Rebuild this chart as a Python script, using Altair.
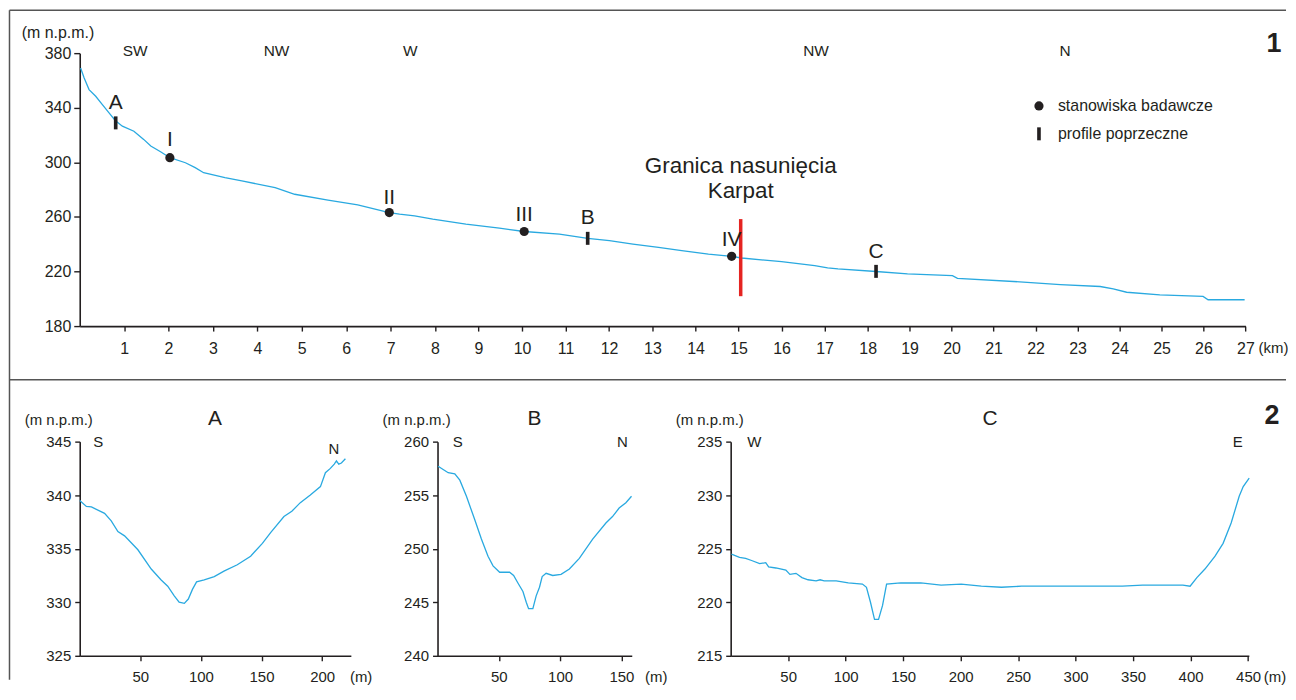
import altair as alt
import pandas as pd

BLUE = "#29a9e0"
RED = "#e52421"
INK = "#231f20"
FRAME = "#555555"
FONT = "Liberation Sans"

# ---------------- longitudinal profile (panel 1) ----------------
prof_km = [0.02, 0.10, 0.21, 0.36, 0.51, 0.66, 0.80, 0.96, 1.22, 1.44, 1.60, 1.82, 2.03,
           2.38, 2.60, 2.79, 3.27, 3.65, 4.40, 4.84, 5.59, 6.26, 6.97, 7.20, 7.54, 7.95,
           8.71, 9.48, 10.05, 10.86, 11.51, 12.01, 12.55, 13.14, 13.68, 14.30, 14.84,
           15.07, 16.00, 16.77, 17.07, 17.31, 18.20, 18.95, 20.02, 20.14, 21.80, 22.59,
           23.54, 23.85, 24.17, 24.96, 25.99, 26.11, 26.98]
prof_elev = [369.1, 361.8, 353.3, 348.4, 342.3, 336.2, 330.7, 326.5, 322.8, 316.8, 311.9, 307.7, 303.4,
             299.7, 296.1, 292.4, 288.8, 286.4, 281.5, 276.6, 272.3, 268.8, 263.2, 262.0, 260.8, 258.4,
             254.7, 251.8, 249.3, 247.4, 244.2, 242.6, 240.1, 237.7, 235.3, 232.8, 231.1,
             229.9, 227.2, 224.3, 222.6, 221.9, 220.0, 218.3, 217.0, 215.0, 212.1, 210.4,
             209.0, 207.3, 204.8, 202.9, 201.7, 199.3, 199.3]

site_names = ["I", "II", "III", "IV"]
site_km = [2.03, 6.97, 10.05, 14.84]
site_elev = [303.4, 263.2, 249.3, 231.1]
site_label_elev = [316.3, 273.6, 261.5, 242.9]

xs_names = ["A", "B", "C"]
xs_km = [0.81, 11.51, 18.20]
xs_elev = [328.9, 244.3, 220.1]
xs_label_elev = [343.3, 259.0, 234.0]

kind_names = ["stanowiska badawcze", "profile poprzeczne"]

thrust_km = [15.05]
thrust_low = [201.9]
thrust_high = [258.4]
thrust_text = ["Granica nasunięcia", "Karpat"]
thrust_text_elev = [297.3, 279.1]

dir_names = ["SW", "NW", "W", "NW", "N"]
dir_km = [1.25, 4.43, 7.44, 16.80, 22.70]
dir_elev = [381.8] * 5

km_ticks = list(range(1, 28))
top_y_ticks = [180, 220, 260, 300, 340, 380]

# ---------------- cross sections (panel 2) ----------------
a_dist = [0, 5.5, 9.6, 20.5, 26, 31.5, 37, 48, 59, 67, 72.6, 78, 82, 86.3, 89.6, 93, 96.4,
          102.7, 111, 119, 130, 141, 150.7, 157.5, 168.5, 175, 182, 190, 198.6, 202.7,
          206.8, 210, 211.8, 213.7, 215.9, 219.2]
a_elev = [339.5, 338.95, 338.9, 338.3, 337.6, 336.6, 336.2, 334.9, 333.1, 332.1, 331.5, 330.6,
          330.0, 329.9, 330.3, 331.2, 331.9, 332.1, 332.4, 332.9, 333.5, 334.3, 335.5, 336.5,
          338.0, 338.5, 339.3, 340.0, 340.8, 342.1, 342.5, 342.9, 343.2, 342.9, 343.0, 343.4]

b_dist = [0.5, 4.6, 8.7, 14.1, 18.2, 23.6, 30.4, 35.8, 41.2, 45.3, 50.7, 58.8, 62.1, 65.6,
          69.7, 72.4, 74.3, 77.8, 80.5, 83.2, 85.4, 88.6, 94, 100.8, 107.6, 115.7, 126.6,
          137.4, 142.8, 148.2, 153.7, 158.3]
b_elev = [257.7, 257.4, 257.1, 257.0, 256.4, 254.9, 252.7, 250.9, 249.3, 248.4, 247.8, 247.8,
          247.5, 246.8, 246.0, 245.0, 244.4, 244.4, 245.6, 246.4, 247.4, 247.7, 247.5, 247.6,
          248.1, 249.1, 250.9, 252.4, 253.0, 253.8, 254.3, 254.9]

c_dist = [0.7, 7.7, 13, 18.2, 25.2, 30.5, 33, 39.3, 48, 51.5, 56.8, 62, 67.3, 74.3, 77.8, 81.3,
          91.8, 102.3, 114.6, 118.1, 121.6, 125.1, 128.6, 132.1, 135.6, 147.9, 165.4, 183,
          200.5, 218, 235.5, 253, 270.6, 288.1, 305.6, 323.2, 340.7, 358.2, 375.7, 393.3,
          399.6, 405.5, 412.5, 421.3, 428.3, 435.3, 442.3, 445.8, 451.0]
c_elev = [224.5, 224.2, 224.1, 223.9, 223.6, 223.7, 223.3, 223.2, 223.0, 222.6, 222.7, 222.3,
          222.1, 222.0, 222.1, 222.0, 222.0, 221.8, 221.7, 221.4, 220.0, 218.4, 218.4, 219.7,
          221.7, 221.8, 221.8, 221.6, 221.7, 221.5, 221.4, 221.5, 221.5, 221.5, 221.5, 221.5,
          221.5, 221.6, 221.6, 221.6, 221.5, 222.3, 223.1, 224.3, 225.5, 227.4, 229.9, 230.8, 231.6]

# ---------------- top chart ----------------
top_xscale = alt.Scale(domain=[0, 8, 13, 18, 27], range=[0, 356.7, 575, 791, 1170.3])
top_yscale = alt.Scale(domain=[180, 380], nice=False, zero=False)
top_xaxis = alt.Axis(values=km_ticks, title="(km)", titleX=1198, titleY=22, titleAngle=0,
                     titleAlign="center", titleBaseline="middle", titleFontSize=15,
                     labelFontSize=16, labelPadding=10, tickSize=5, labelFlush=False,
                     labelOverlap=False, grid=False, format="d")
top_yaxis = alt.Axis(values=top_y_ticks, title="(m n.p.m.)", titleX=-22.3, titleY=-21,
                     titleAngle=0, titleAlign="center", titleBaseline="middle", titleFontSize=16,
                     labelFontSize=16, labelPadding=3, tickSize=6, labelFlush=False, grid=False)


def TX(f):
    return alt.X(f"{f}:Q", scale=top_xscale, axis=top_xaxis)


def TY(f):
    return alt.Y(f"{f}:Q", scale=top_yscale, axis=top_yaxis)


dummy = pd.DataFrame({"v": [0]})

frame_left = alt.Chart(dummy).mark_rule(color=FRAME, strokeWidth=1.5).encode(
    x=alt.value(-70.5), y=alt.value(-43), y2=alt.value(629))
frame_top = alt.Chart(dummy).mark_rule(color=FRAME, strokeWidth=1.5).encode(
    x=alt.value(-70.5), x2=alt.value(1211), y=alt.value(-43))
frame_mid = alt.Chart(dummy).mark_rule(color=FRAME, strokeWidth=1.5).encode(
    x=alt.value(-70.5), x2=alt.value(1211), y=alt.value(327.8))

prof_df = pd.DataFrame({"km": prof_km, "elev": prof_elev})
prof_line = alt.Chart(prof_df).mark_line(color=BLUE, strokeWidth=1.3).encode(
    x=TX("km"), y=TY("elev"))

thrust_df = pd.DataFrame({"km": thrust_km, "elev": thrust_low, "elev2": thrust_high})
thrust = alt.Chart(thrust_df).mark_rule(color=RED, strokeWidth=3.5).encode(
    x=TX("km"), y=TY("elev"), y2="elev2:Q")

thrust_lbl_df = pd.DataFrame({"km": thrust_km * 2, "elev": thrust_text_elev, "t": thrust_text})
thrust_lbl = alt.Chart(thrust_lbl_df).mark_text(fontSize=22.5, font=FONT, color=INK,
                                                baseline="middle").encode(
    x=TX("km"), y=TY("elev"), text="t:N")

BAR = "M-0.28,-1L0.28,-1L0.28,1L-0.28,1Z"
marks_df = pd.DataFrame({
    "name": site_names + xs_names,
    "km": site_km + xs_km,
    "elev": site_elev + xs_elev,
    "lab": site_label_elev + xs_label_elev,
    "kind": [kind_names[0]] * len(site_names) + [kind_names[1]] * len(xs_names),
})
leg = alt.Legend(title=None, orient="none", legendX=955, legendY=45, labelFontSize=16,
                 labelFont=FONT, labelColor=INK, labelOffset=11, rowPadding=12,
                 symbolFillColor=INK, symbolStrokeColor=INK, symbolStrokeWidth=0,
                 symbolOpacity=1)
markers = alt.Chart(marks_df).mark_point(filled=True, opacity=1, color=INK, strokeWidth=0).encode(
    x=TX("km"), y=TY("elev"),
    shape=alt.Shape("kind:N", scale=alt.Scale(domain=kind_names, range=["circle", BAR]), legend=leg),
    size=alt.Size("kind:N", scale=alt.Scale(domain=kind_names, range=[85, 170]), legend=leg),
)
marker_lbl = alt.Chart(marks_df).mark_text(fontSize=21, font=FONT, color=INK,
                                           baseline="middle").encode(
    x=TX("km"), y=TY("lab"), text="name:N")

dir_df = pd.DataFrame({"km": dir_km, "elev": dir_elev, "t": dir_names})
dir_lbl = alt.Chart(dir_df).mark_text(fontSize=15.5, font=FONT, color=INK,
                                      baseline="middle").encode(
    x=TX("km"), y=TY("elev"), text="t:N")

num1 = alt.Chart(dummy).mark_text(fontSize=27, font=FONT, fontWeight="bold", color=INK,
                                  baseline="middle").encode(
    x=alt.value(1199), y=alt.value(-9), text=alt.value("1"))
num2 = alt.Chart(dummy).mark_text(fontSize=27, font=FONT, fontWeight="bold", color=INK,
                                  baseline="middle").encode(
    x=alt.value(1197), y=alt.value(364), text=alt.value("2"))

top = alt.layer(frame_left, frame_top, frame_mid, prof_line, thrust, thrust_lbl, markers,
                marker_lbl, dir_lbl, num1, num2).properties(width=1170.3, height=274)


# ---------------- cross section charts ----------------
def section(dist, elev, xmax, width, ydom, xticks, yticks, dnames, dx, dy, title, title_x, unit_x):
    xscale = alt.Scale(domain=[0, xmax], nice=False, zero=False)
    yscale = alt.Scale(domain=ydom, nice=False, zero=False)
    xaxis = alt.Axis(values=xticks, title="(m)", titleX=unit_x, titleY=21, titleAngle=0,
                     titleAlign="center", titleBaseline="middle", titleFontSize=15,
                     labelFontSize=15, labelPadding=9, tickSize=5, labelFlush=False,
                     labelOverlap=False, grid=False)
    yaxis = alt.Axis(values=yticks, title="(m n.p.m.)", titleX=-21.5, titleY=-22.5, titleAngle=0,
                     titleAlign="center", titleBaseline="middle", titleFontSize=15,
                     labelFontSize=15, labelPadding=4, tickSize=5, labelFlush=False, grid=False)

    def X(f):
        return alt.X(f"{f}:Q", scale=xscale, axis=xaxis)

    def Y(f):
        return alt.Y(f"{f}:Q", scale=yscale, axis=yaxis)

    line = alt.Chart(pd.DataFrame({"d": dist, "h": elev})).mark_line(
        color=BLUE, strokeWidth=1.3).encode(x=X("d"), y=Y("h"))
    dirs = alt.Chart(pd.DataFrame({"d": dx, "h": dy, "t": dnames})).mark_text(
        fontSize=15, font=FONT, color=INK, baseline="middle").encode(x=X("d"), y=Y("h"), text="t:N")
    ttl = alt.Chart(pd.DataFrame({"d": [title_x], "h": [ydom[1]], "t": [title]})).mark_text(
        fontSize=21, font=FONT, color=INK, baseline="middle", dy=-23).encode(
        x=X("d"), y=Y("h"), text="t:N")
    return alt.layer(line, dirs, ttl).properties(width=width, height=215)


chart_a = section(a_dist, a_elev, 223.7, 272.2, [325, 345], [50, 100, 150, 200],
                  [325, 330, 335, 340, 345], ["S", "N"], [15.3, 209.6], [345, 344.3],
                  "A", 111.6, 282)
chart_b = section(b_dist, b_elev, 158.5, 195, [240, 260], [50, 100, 150],
                  [240, 245, 250, 255, 260], ["S", "N"], [16.5, 150.9], [260, 260],
                  "B", 79.1, 219)
chart_c = section(c_dist, c_elev, 450.7, 520.2, [215, 235],
                  [50, 100, 150, 200, 250, 300, 350, 400, 450],
                  [215, 220, 225, 230, 235], ["W", "E"], [20.5, 441.1], [235, 235],
                  "C", 225.7, 546)

bottom = alt.hconcat(chart_a, alt.hconcat(chart_b, chart_c, spacing=99.3, bounds="flush"),
                     spacing=86.2, bounds="flush")

chart = alt.vconcat(top, bottom, spacing=116, bounds="flush").properties(
    padding=0, background="white"
).configure(font=FONT).configure_view(stroke=None).configure_axis(
    domainColor=INK, domainWidth=1.6, tickColor=INK, tickWidth=1.4, labelColor=INK,
    labelFont=FONT, titleFont=FONT, titleColor=INK, titleFontWeight="normal"
)

chart.save("out.html", embed_options={"renderer": "svg", "actions": False})
